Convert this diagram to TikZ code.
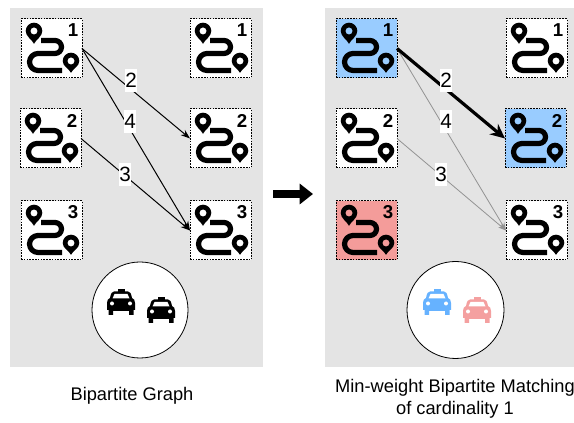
\documentclass[tikz,border=0pt]{standalone}
\usepackage{fontspec}
\setmainfont{Liberation Sans}
\usetikzlibrary{arrows.meta}
\definecolor{panel}{HTML}{E4E4E4}
\definecolor{blueT}{HTML}{99CCFF}
\definecolor{redT}{HTML}{F49C9A}
\definecolor{blueC}{HTML}{66B2FF}
\definecolor{redC}{HTML}{F4A0A0}
\tikzset{
  x=0.75pt,y=-0.75pt,
  routebox/.style={draw=black,dash pattern=on 1.2pt off 0.9pt,line width=0.75pt,minimum width=45.75pt,minimum height=44.25pt,inner sep=0pt,outer sep=0pt,fill=white},
  weight/.style={fill=white,inner sep=0pt,minimum width=7.5pt,minimum height=17pt,font=\fontsize{15.5}{15.5}\selectfont},
  edgeN/.style={draw=black,line width=0.75pt,-{Stealth[length=7pt,width=5pt]}},
  edgeG/.style={draw=gray!85,line width=0.6pt,-{Stealth[length=6pt,width=4pt]}},
  edgeB/.style={draw=black,line width=2.4pt,-{Stealth[length=11pt,width=10pt]}},
  capt/.style={font=\fontsize{13.7}{16.5}\selectfont,align=center},
  pics/route/.style={code={
    % origin = top-left corner of the box
    \fill[black,even odd rule] (13,24.8) .. controls (11,20.5) and (4.7,17.5) .. (4.7,12) arc[start angle=180,end angle=360,radius=8.3] .. controls (21.3,17.5) and (15,20.5) .. (13,24.8) -- cycle (13,12) circle[radius=3.6];
    \fill[black,even odd rule] (50,53.8) .. controls (48,49.5) and (41.7,47.5) .. (41.7,42) arc[start angle=180,end angle=360,radius=8.3] .. controls (58.3,47.5) and (52,49.5) .. (50,53.8) -- cycle (50,42) circle[radius=3.6];
    \draw[black,line width=3.9pt,line join=round] (20,21.5) -- (34,21.5) arc[start angle=-90,end angle=90,radius=6.5] -- (17,34.5) arc[start angle=-90,end angle=-270,radius=8.5] -- (41,51.5);
    \node[font=\bfseries\fontsize{14}{14}\selectfont,inner sep=0pt] at (52,11.5) {#1};
  }},
  pics/taxi/.style={code={
    % origin = top-left corner of a 28x26 icon
    \fill[#1] (10.5,0) rectangle (17.5,3.5);
    \fill[#1] (7,2.5) -- (21,2.5) .. controls (23,2.5) and (24,4) .. (25,9) .. controls (27,10) and (28,11) .. (28,14) -- (28,21) -- (26.5,21) -- (26.5,26) -- (22,26) -- (22,22) -- (6,22) -- (6,26) -- (1.5,26) -- (1.5,21) -- (0,21) -- (0,14) .. controls (0,11) and (1,10) .. (3,9) .. controls (4,4) and (5,2.5) .. (7,2.5) -- cycle;
    \fill[white] (5.5,9.5) -- (7.5,5) -- (20.5,5) -- (22.5,9.5) -- cycle;
    \fill[white] (5,14.5) circle[radius=2];
    \fill[white] (23,14.5) circle[radius=2];
  }},
}
\begin{document}
\begin{tikzpicture}
\useasboundingbox (0,0) rectangle (574,423);
\fill[white] (0,0) rectangle (574,423);
\fill[panel] (10,8) rectangle (263,367);
\fill[panel] (325,8) rectangle (574,367);

% left panel
\node[routebox,anchor=north west] (a1) at (21,19) {};
\node[routebox,anchor=north west] (a2) at (20,109) {};
\node[routebox,anchor=north west] (a3) at (21,201) {};
\node[routebox,anchor=north west] (b1) at (190,19) {};
\node[routebox,anchor=north west] (b2) at (190,109) {};
\node[routebox,anchor=north west] (b3) at (190,201) {};
\pic at (21,19) {route=1};
\pic at (20,109) {route=2};
\pic at (21,201) {route=3};
\pic at (190,19) {route=1};
\pic at (190,109) {route=2};
\pic at (190,201) {route=3};
\draw[edgeN] (a1.east) -- (b2.west);
\draw[edgeN] (a1.east) -- (b3.west);
\draw[edgeN] (a2.east) -- (b3.west);
\node[weight] (w1) at (131,80.5) {2};
\node[weight] (w2) at (130,121.5) {4};
\node[weight] (w3) at (125,174.5) {3};
\node[draw=black,fill=white,circle,minimum size=72pt,inner sep=0pt,line width=0.6pt] (c1) at (140,310) {};
\pic at (107,289) {taxi=black};
\pic at (147,297) {taxi=black};
\node[capt] (t1) at (132,396) {Bipartite Graph};

% arrow
\coordinate (ga) at (273,194);
\coordinate (gb) at (313,194);
\draw[black,line width=5.6pt,-{Triangle[length=10pt,width=15pt]}] (ga) -- (gb);

% right panel
\node[routebox,anchor=north west,fill=blueT] (p1) at (336,19) {};
\node[routebox,anchor=north west] (p2) at (336,109) {};
\node[routebox,anchor=north west,fill=redT] (p3) at (336,201) {};
\node[routebox,anchor=north west] (q1) at (506,19) {};
\node[routebox,anchor=north west,fill=blueT] (q2) at (505,109) {};
\node[routebox,anchor=north west] (q3) at (506,201) {};
\pic at (336,19) {route=1};
\pic at (336,109) {route=2};
\pic at (336,201) {route=3};
\pic at (506,19) {route=1};
\pic at (505,109) {route=2};
\pic at (506,201) {route=3};
\draw[edgeG] (p1.east) -- (q3.west);
\draw[edgeG] (p2.east) -- (q3.west);
\draw[edgeB] (p1.east) -- (q2.west);
\node[weight] (v1) at (446,80.5) {2};
\node[weight] (v2) at (446,121.5) {4};
\node[weight] (v3) at (441,174.5) {3};
\node[draw=black,fill=white,circle,minimum size=72.75pt,inner sep=0pt,line width=0.6pt] (c2) at (455.5,310) {};
\pic at (423,289) {taxi=blueC};
\pic at (463,297) {taxi=redC};
\node[capt] (t2) at (455,399) {Min-weight Bipartite Matching\\of cardinality 1};
\end{tikzpicture}
\end{document}
